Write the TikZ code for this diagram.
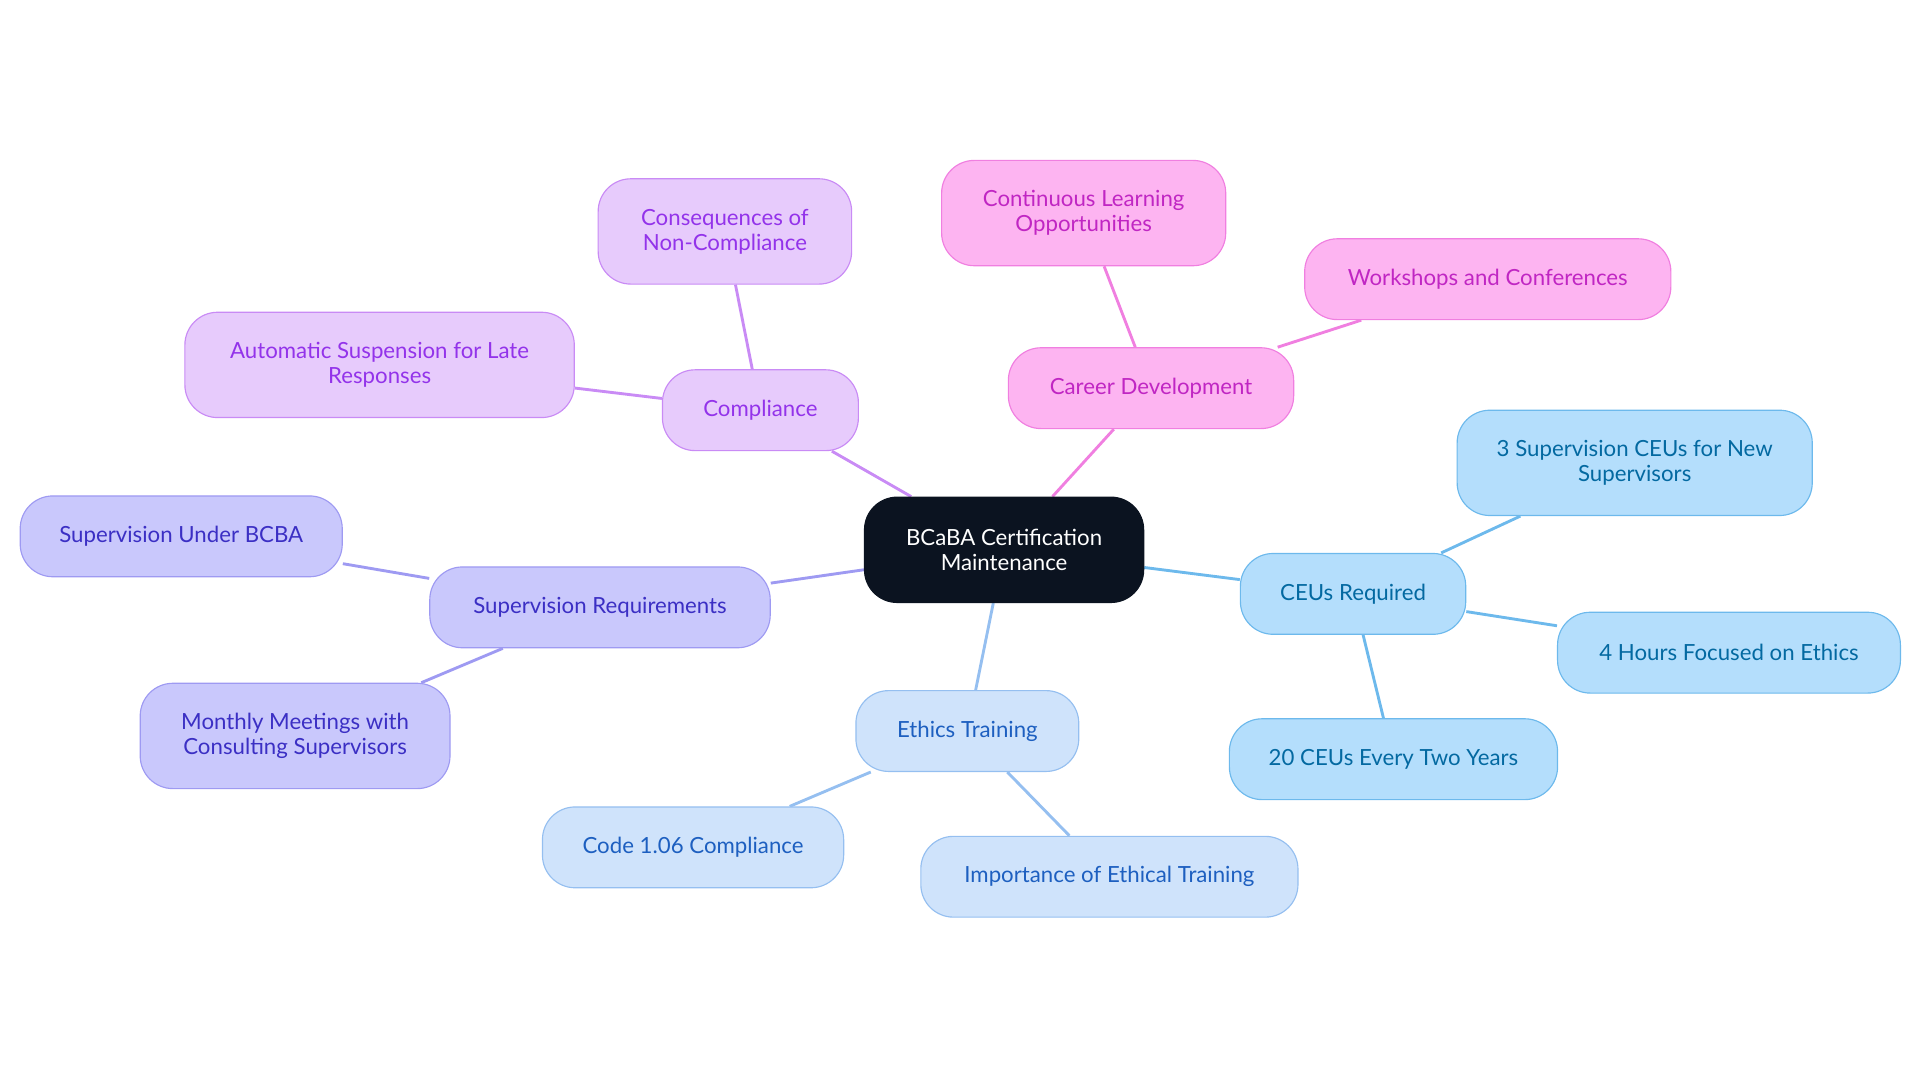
\documentclass[tikz,border=0pt]{standalone}
\usepackage{fontspec}
\setmainfont{Lato}
\usetikzlibrary{backgrounds}
\definecolor{purF}{HTML}{E7CBFC}\definecolor{purD}{HTML}{C98BF5}\definecolor{purT}{HTML}{9333EA}
\definecolor{pinF}{HTML}{FDB4F1}\definecolor{pinD}{HTML}{F07FE0}\definecolor{pinT}{HTML}{C026C3}
\definecolor{indF}{HTML}{C9C8FC}\definecolor{indD}{HTML}{9E9AF2}\definecolor{indT}{HTML}{3B2FC4}
\definecolor{bluF}{HTML}{CFE3FB}\definecolor{bluD}{HTML}{95BFF0}\definecolor{bluT}{HTML}{1D5FC0}
\definecolor{skyF}{HTML}{B4DEFC}\definecolor{skyD}{HTML}{6DB9EC}\definecolor{skyT}{HTML}{0369A1}
\definecolor{dark}{HTML}{0B1320}
\tikzset{
 base/.style={rounded corners=0.8cm, align=center, font=\fontsize{15.5}{17.5}\selectfont, inner sep=2pt, line width=0.8pt},
 cpur/.style={base, fill=purF, draw=purD, text=purT},
 cpin/.style={base, fill=pinF, draw=pinD, text=pinT},
 cind/.style={base, fill=indF, draw=indD, text=indT},
 cblu/.style={base, fill=bluF, draw=bluD, text=bluT},
 csky/.style={base, fill=skyF, draw=skyD, text=skyT},
 edge/.style={line width=2pt},
}
\newcommand{\nd}[7]{\node[#1, minimum width=#4*0.03cm, minimum height=#5*0.03cm] (#2) at (#3) {#6};}
\begin{document}
\begin{tikzpicture}[x=0.03cm,y=-0.03cm]
\useasboundingbox (0,0) rectangle (1568,884);
\node[base, fill=dark, draw=dark, text=white, minimum width=228*0.03cm, minimum height=86*0.03cm] (c) at (820,449) {BCaBA Certification\\Maintenance};
\node[cpur, minimum width=160*0.03cm, minimum height=66*0.03cm] (comp) at (621,335) {Compliance};
\node[cpur, minimum width=207*0.03cm, minimum height=86*0.03cm] (cons) at (592,189) {Consequences of\\Non-Compliance};
\node[cpur, minimum width=318*0.03cm, minimum height=86*0.03cm] (auto) at (310,298) {Automatic Suspension for Late\\Responses};
\node[cpin, minimum width=233*0.03cm, minimum height=66*0.03cm] (car) at (940,317) {Career Development};
\node[cpin, minimum width=232*0.03cm, minimum height=86*0.03cm] (cont) at (885,174) {Continuous Learning\\Opportunities};
\node[cpin, minimum width=299*0.03cm, minimum height=66*0.03cm] (work) at (1215,228) {Workshops and Conferences};
\node[cind, minimum width=278*0.03cm, minimum height=66*0.03cm] (sup) at (490,496) {Supervision Requirements};
\node[cind, minimum width=263*0.03cm, minimum height=66*0.03cm] (sub) at (148,438) {Supervision Under BCBA};
\node[cind, minimum width=253*0.03cm, minimum height=86*0.03cm] (mon) at (241,601) {Monthly Meetings with\\Consulting Supervisors};
\node[cblu, minimum width=182*0.03cm, minimum height=66*0.03cm] (eth) at (790,597) {Ethics Training};
\node[cblu, minimum width=246*0.03cm, minimum height=66*0.03cm] (code) at (566,692) {Code 1.06 Compliance};
\node[cblu, minimum width=308*0.03cm, minimum height=66*0.03cm] (imp) at (906,716) {Importance of Ethical Training};
\node[csky, minimum width=184*0.03cm, minimum height=66*0.03cm] (ceu) at (1105,485) {CEUs Required};
\node[csky, minimum width=290*0.03cm, minimum height=86*0.03cm] (three) at (1335,378) {3 Supervision CEUs for New\\Supervisors};
\node[csky, minimum width=280*0.03cm, minimum height=66*0.03cm] (four) at (1412,533) {4 Hours Focused on Ethics};
\node[csky, minimum width=268*0.03cm, minimum height=66*0.03cm] (twenty) at (1138,620) {20 CEUs Every Two Years};
\begin{scope}[on background layer]
\draw[edge, purD] (c) -- (comp); \draw[edge, purD] (comp) -- (cons); \draw[edge, purD] (comp) -- (auto);
\draw[edge, pinD] (c) -- (car); \draw[edge, pinD] (car) -- (cont); \draw[edge, pinD] (car) -- (work);
\draw[edge, indD] (c) -- (sup); \draw[edge, indD] (sup) -- (sub); \draw[edge, indD] (sup) -- (mon);
\draw[edge, bluD] (c) -- (eth); \draw[edge, bluD] (eth) -- (code); \draw[edge, bluD] (eth) -- (imp);
\draw[edge, skyD] (c) -- (ceu); \draw[edge, skyD] (ceu) -- (three); \draw[edge, skyD] (ceu) -- (four); \draw[edge, skyD] (ceu) -- (twenty);
\end{scope}
\end{tikzpicture}
\end{document}
